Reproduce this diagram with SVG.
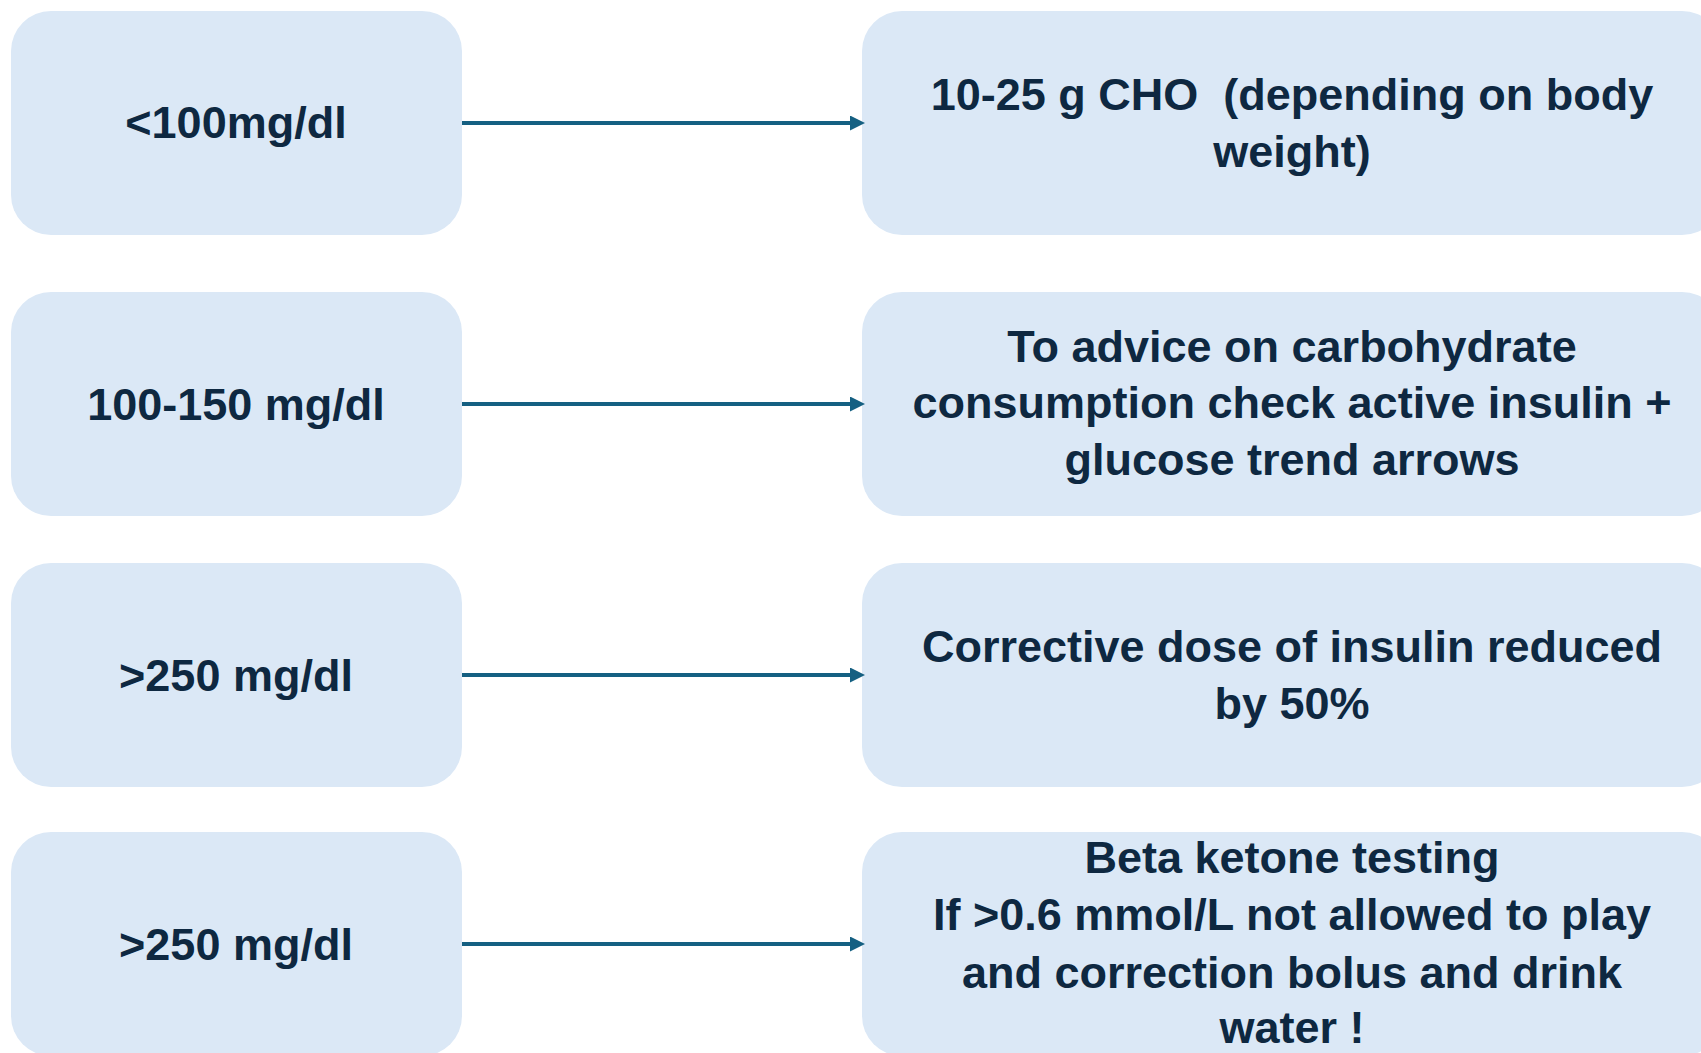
<svg xmlns="http://www.w3.org/2000/svg" width="1701" height="1053" viewBox="0 0 1701 1053">
<style>
.box{fill:#dbe8f6;}
.t{font-family:"Liberation Sans",Arial,sans-serif;font-weight:bold;font-size:45px;fill:#0e2841;text-anchor:middle;white-space:pre;}
.c{stroke:#156082;stroke-width:4;fill:none;}
</style>
<defs>
<marker id="ah" viewBox="0 0 15 15" refX="0" refY="7.5" markerWidth="15" markerHeight="15" markerUnits="userSpaceOnUse" orient="auto">
<path d="M0,0 L15,7.5 L0,15 z" fill="#156082"/>
</marker>
</defs>
<rect width="1701" height="1053" fill="#ffffff"/>
<g id="left1"><rect class="box" x="11" y="11" width="451" height="224" rx="40"/><text class="t" x="236" y="138">&lt;100mg/dl</text></g>
<g id="left2"><rect class="box" x="11" y="292" width="451" height="224" rx="40"/><text class="t" x="236" y="420">100-150 mg/dl</text></g>
<g id="left3"><rect class="box" x="11" y="563" width="451" height="224" rx="40"/><text class="t" x="236" y="691">&gt;250 mg/dl</text></g>
<g id="left4"><rect class="box" x="11" y="832" width="451" height="224" rx="40"/><text class="t" x="236" y="960">&gt;250 mg/dl</text></g>
<g id="right1"><rect class="box" x="862" y="11" width="860" height="224" rx="40"/><text class="t" x="1292" y="110">10-25 g CHO  (depending on body</text><text class="t" x="1292" y="167">weight)</text></g>
<g id="right2"><rect class="box" x="862" y="292" width="860" height="224" rx="40"/><text class="t" x="1292" y="362">To advice on carbohydrate</text><text class="t" x="1292" y="418">consumption check active insulin +</text><text class="t" x="1292" y="475">glucose trend arrows</text></g>
<g id="right3"><rect class="box" x="862" y="563" width="860" height="224" rx="40"/><text class="t" x="1292" y="662">Corrective dose of insulin reduced</text><text class="t" x="1292" y="719">by 50%</text></g>
<g id="right4"><rect class="box" x="862" y="832" width="860" height="224" rx="40"/><text class="t" x="1292" y="873">Beta ketone testing</text><text class="t" x="1292" y="930">If &gt;0.6 mmol/L not allowed to play</text><text class="t" x="1292" y="988">and correction bolus and drink</text><text class="t" x="1292" y="1043">water !</text></g>
<g id="connectors">
<line class="c" x1="462" y1="123" x2="850" y2="123" marker-end="url(#ah)"/>
<line class="c" x1="462" y1="404" x2="850" y2="404" marker-end="url(#ah)"/>
<line class="c" x1="462" y1="675" x2="850" y2="675" marker-end="url(#ah)"/>
<line class="c" x1="462" y1="944" x2="850" y2="944" marker-end="url(#ah)"/>
</g>
</svg>
